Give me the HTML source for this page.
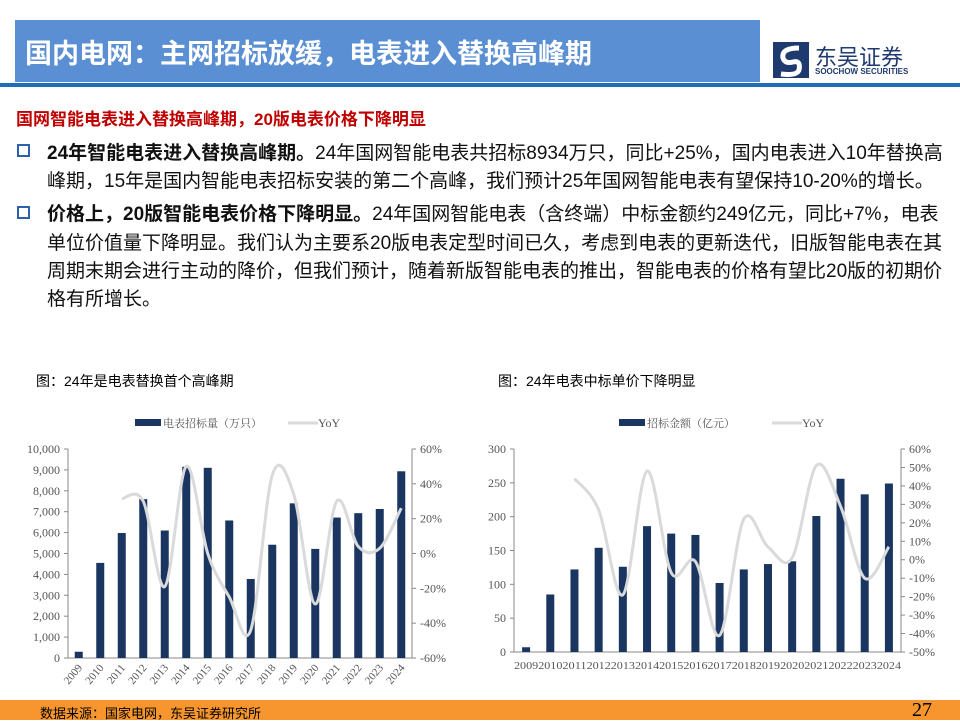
<!DOCTYPE html>
<html><head><meta charset="utf-8">
<style>
body{margin:0;width:960px;height:720px;background:#fff;overflow:hidden;position:relative;font-family:"Liberation Sans","Noto Sans CJK SC",sans-serif}
.abs{position:absolute}
.line{position:absolute;left:47px;white-space:nowrap;font-size:19px;color:#111}
.bul{position:absolute;left:17px;width:9px;height:9px;border:2px solid #2e5faa;background:#fff}
</style></head><body>
<div class="abs" style="left:15px;top:20px;width:745px;height:62px;background:#5b8fd3"></div>
<div class="abs" style="left:25px;top:32px;font-size:27px;font-weight:bold;color:#fff;white-space:nowrap">国内电网：主网招标放缓，电表进入替换高峰期</div>
<div class="abs" style="left:773px;top:40px;width:140px;height:40px">
 <svg width="36" height="36" style="position:absolute;left:0;top:2px"><rect x="0" y="0" width="36" height="36" fill="#1f3a6e"/><path d="M26 6 Q8 6 10 16 Q12 22 20 20 Q28 18 26 28 Q24 34 8 32" stroke="#fff" stroke-width="5" fill="none"/></svg>
 <div style="position:absolute;left:42px;top:0;font-size:22px;color:#1f3a6e;white-space:nowrap">东吴证券</div>
 <div style="position:absolute;left:42px;top:27px;font-size:8px;font-weight:bold;color:#1f3a6e;white-space:nowrap">SOOCHOW SECURITIES</div>
</div>
<div class="abs" style="left:0;top:83px;width:960px;height:4px;background:#1f6db5"></div>
<div class="abs" style="left:16px;top:105px;font-size:17px;font-weight:bold;color:#c00000;white-space:nowrap">国网智能电表进入替换高峰期，20版电表价格下降明显</div>
<div class="bul" style="top:144px"></div>
<div class="line" style="top:138px"><b>24年智能电表进入替换高峰期。</b>24年国网智能电表共招标8934万只，同比+25%，国内电表进入10年替换高</div>
<div class="line" style="top:166px">峰期，15年是国内智能电表招标安装的第二个高峰，我们预计25年国网智能电表有望保持10-20%的增长。</div>
<div class="bul" style="top:206px"></div>
<div class="line" style="top:199px"><b>价格上，20版智能电表价格下降明显。</b>24年国网智能电表（含终端）中标金额约249亿元，同比+7%，电表</div>
<div class="line" style="top:228px">单位价值量下降明显。我们认为主要系20版电表定型时间已久，考虑到电表的更新迭代，旧版智能电表在其</div>
<div class="line" style="top:256px">周期末期会进行主动的降价，但我们预计，随着新版智能电表的推出，智能电表的价格有望比20版的初期价</div>
<div class="line" style="top:284px">格有所增长。</div>
<div class="abs" style="left:36px;top:371px;font-size:14px;white-space:nowrap">图：24年是电表替换首个高峰期</div>
<div class="abs" style="left:498px;top:371px;font-size:14px;white-space:nowrap">图：24年电表中标单价下降明显</div>
<svg id="c" width="960" height="720" style="position:absolute;left:0;top:0"></svg>
<div class="abs" style="left:0;top:700px;width:960px;height:20px;background:#f7962e"></div>
<div class="abs" style="left:40px;top:703px;font-size:13px;white-space:nowrap">数据来源：国家电网，东吴证券研究所</div>
<div class="abs" style="left:912px;top:699px;font-size:20px;font-family:'Liberation Serif',serif">27</div>
<script>
const years=["2009","2010","2011","2012","2013","2014","2015","2016","2017","2018","2019","2020","2021","2022","2023","2024"];
const qty=[300,4550,5980,7600,6100,9150,9100,6580,3780,5420,7400,5220,6720,6930,7130,8934];
const qtyYoY=[null,null,31.5,30,-19,50,0,-25,-44,45,34,-29,30,4,3,26];
const amt=[7,85,122,154,126,186,175,173,102,122,130,134,201,256,233,249];
const amtYoY=[null,null,44,27,-19,48,-7,-1,-41,22,7,1,51,29,-10,7];
const ticksL1=[0,1000,2000,3000,4000,5000,6000,7000,8000,9000,10000];
const ticksR1=[-60,-40,-20,0,20,40,60];
const ticksL2=[0,50,100,150,200,250,300];
const ticksR2=[-50,-40,-30,-20,-10,0,10,20,30,40,50,60];
const svg=document.getElementById('c');
const NS='http://www.w3.org/2000/svg';
function mk(t,a,txt){const e=document.createElementNS(NS,t);for(const k in a)e.setAttribute(k,a[k]);if(txt!==undefined)e.textContent=txt;svg.appendChild(e);return e;}
function fmt(n){return n.toLocaleString('en-US');}
function chart(o){
 const {x0,x1,y0,y1,lmin,lmax,rmin,rmax,vals,yoy,tl,tr,id,rot,legend,lx}=o;
 const ly=v=>y1-(v-lmin)/(lmax-lmin)*(y1-y0);
 const ry=v=>y1-(v-rmin)/(rmax-rmin)*(y1-y0);
 const cw=(x1-x0)/vals.length, cx=i=>x0+cw*(i+0.5);
 const font='Liberation Serif, serif';
 let e=mk('line',{x1:x0,y1:y0,x2:x0,y2:y1,stroke:'#888'});
 
 e=mk('line',{x1:x1,y1:y0,x2:x1,y2:y1,stroke:'#888'});
 
 e=mk('line',{x1:x0,y1:y1,x2:x1,y2:y1,stroke:'#888'});
 
 tl.forEach(v=>{mk('line',{x1:x0-4,x2:x0,y1:ly(v),y2:ly(v),stroke:'#888'});
  e=mk('text',{x:x0-8,y:ly(v)+4,'text-anchor':'end','font-size':12,fill:'#555','font-family':font},id==='c1'?fmt(v):v);
  });
 tr.forEach(v=>{mk('line',{x1:x1,x2:x1+4,y1:ry(v),y2:ry(v),stroke:'#888'});
  e=mk('text',{x:x1+8,y:ry(v)+4,'font-size':12,fill:'#555','font-family':font},v+'%');
  });
 vals.forEach((v,i)=>{e=mk('rect',{x:cx(i)-4,y:ly(v),width:8,height:y1-ly(v),fill:'#1a3560'});
  });
 years.forEach((yr,i)=>{
  if(rot){e=mk('text',{x:cx(i)+4,y:y1+10,'text-anchor':'end','font-size':11,fill:'#555','font-family':font,transform:`rotate(-50 ${cx(i)+4} ${y1+10})`},yr);}
  else{e=mk('text',{x:cx(i),y:y1+17,'text-anchor':'middle','font-size':11,fill:'#555','font-family':font,textLength:cw,lengthAdjust:'spacingAndGlyphs'},yr);}
  });
 const pts=[];yoy.forEach((v,i)=>{if(v!==null)pts.push([cx(i),ry(v)]);});
 let d='M'+pts[0][0]+','+pts[0][1];
 for(let i=0;i<pts.length-1;i++){const p0=pts[Math.max(0,i-1)],p1=pts[i],p2=pts[i+1],p3=pts[Math.min(pts.length-1,i+2)];
  d+=` C${p1[0]+(p2[0]-p0[0])/6},${p1[1]+(p2[1]-p0[1])/6} ${p2[0]-(p3[0]-p1[0])/6},${p2[1]-(p3[1]-p1[1])/6} ${p2[0]},${p2[1]}`;}
 e=mk('path',{d:d,fill:'none',stroke:'#d9dadb','stroke-width':3});
 
 e=mk('rect',{x:lx,y:419,width:26,height:7,fill:'#1a3560'});
 
 e=mk('text',{x:lx+28,y:427,'font-size':11,fill:'#555','font-family':'Liberation Serif, Noto Serif CJK SC, serif'},legend);
 
 e=mk('line',{x1:lx+153,x2:lx+183,y1:423,y2:423,stroke:'#d9dadb','stroke-width':3});
 
 e=mk('text',{x:lx+183,y:427,'font-size':12,fill:'#555','font-family':font},'YoY');
 
}
chart({id:'c1',x0:68,x1:412,y0:449,y1:658,lmin:0,lmax:10000,rmin:-60,rmax:60,vals:qty,yoy:qtyYoY,tl:ticksL1,tr:ticksR1,rot:true,legend:'电表招标量（万只）',lx:135});
chart({id:'c2',x0:514,x1:901,y0:449,y1:652,lmin:0,lmax:300,rmin:-50,rmax:60,vals:amt,yoy:amtYoY,tl:ticksL2,tr:ticksR2,rot:false,legend:'招标金额（亿元）',lx:619});
</script>
</body></html>
